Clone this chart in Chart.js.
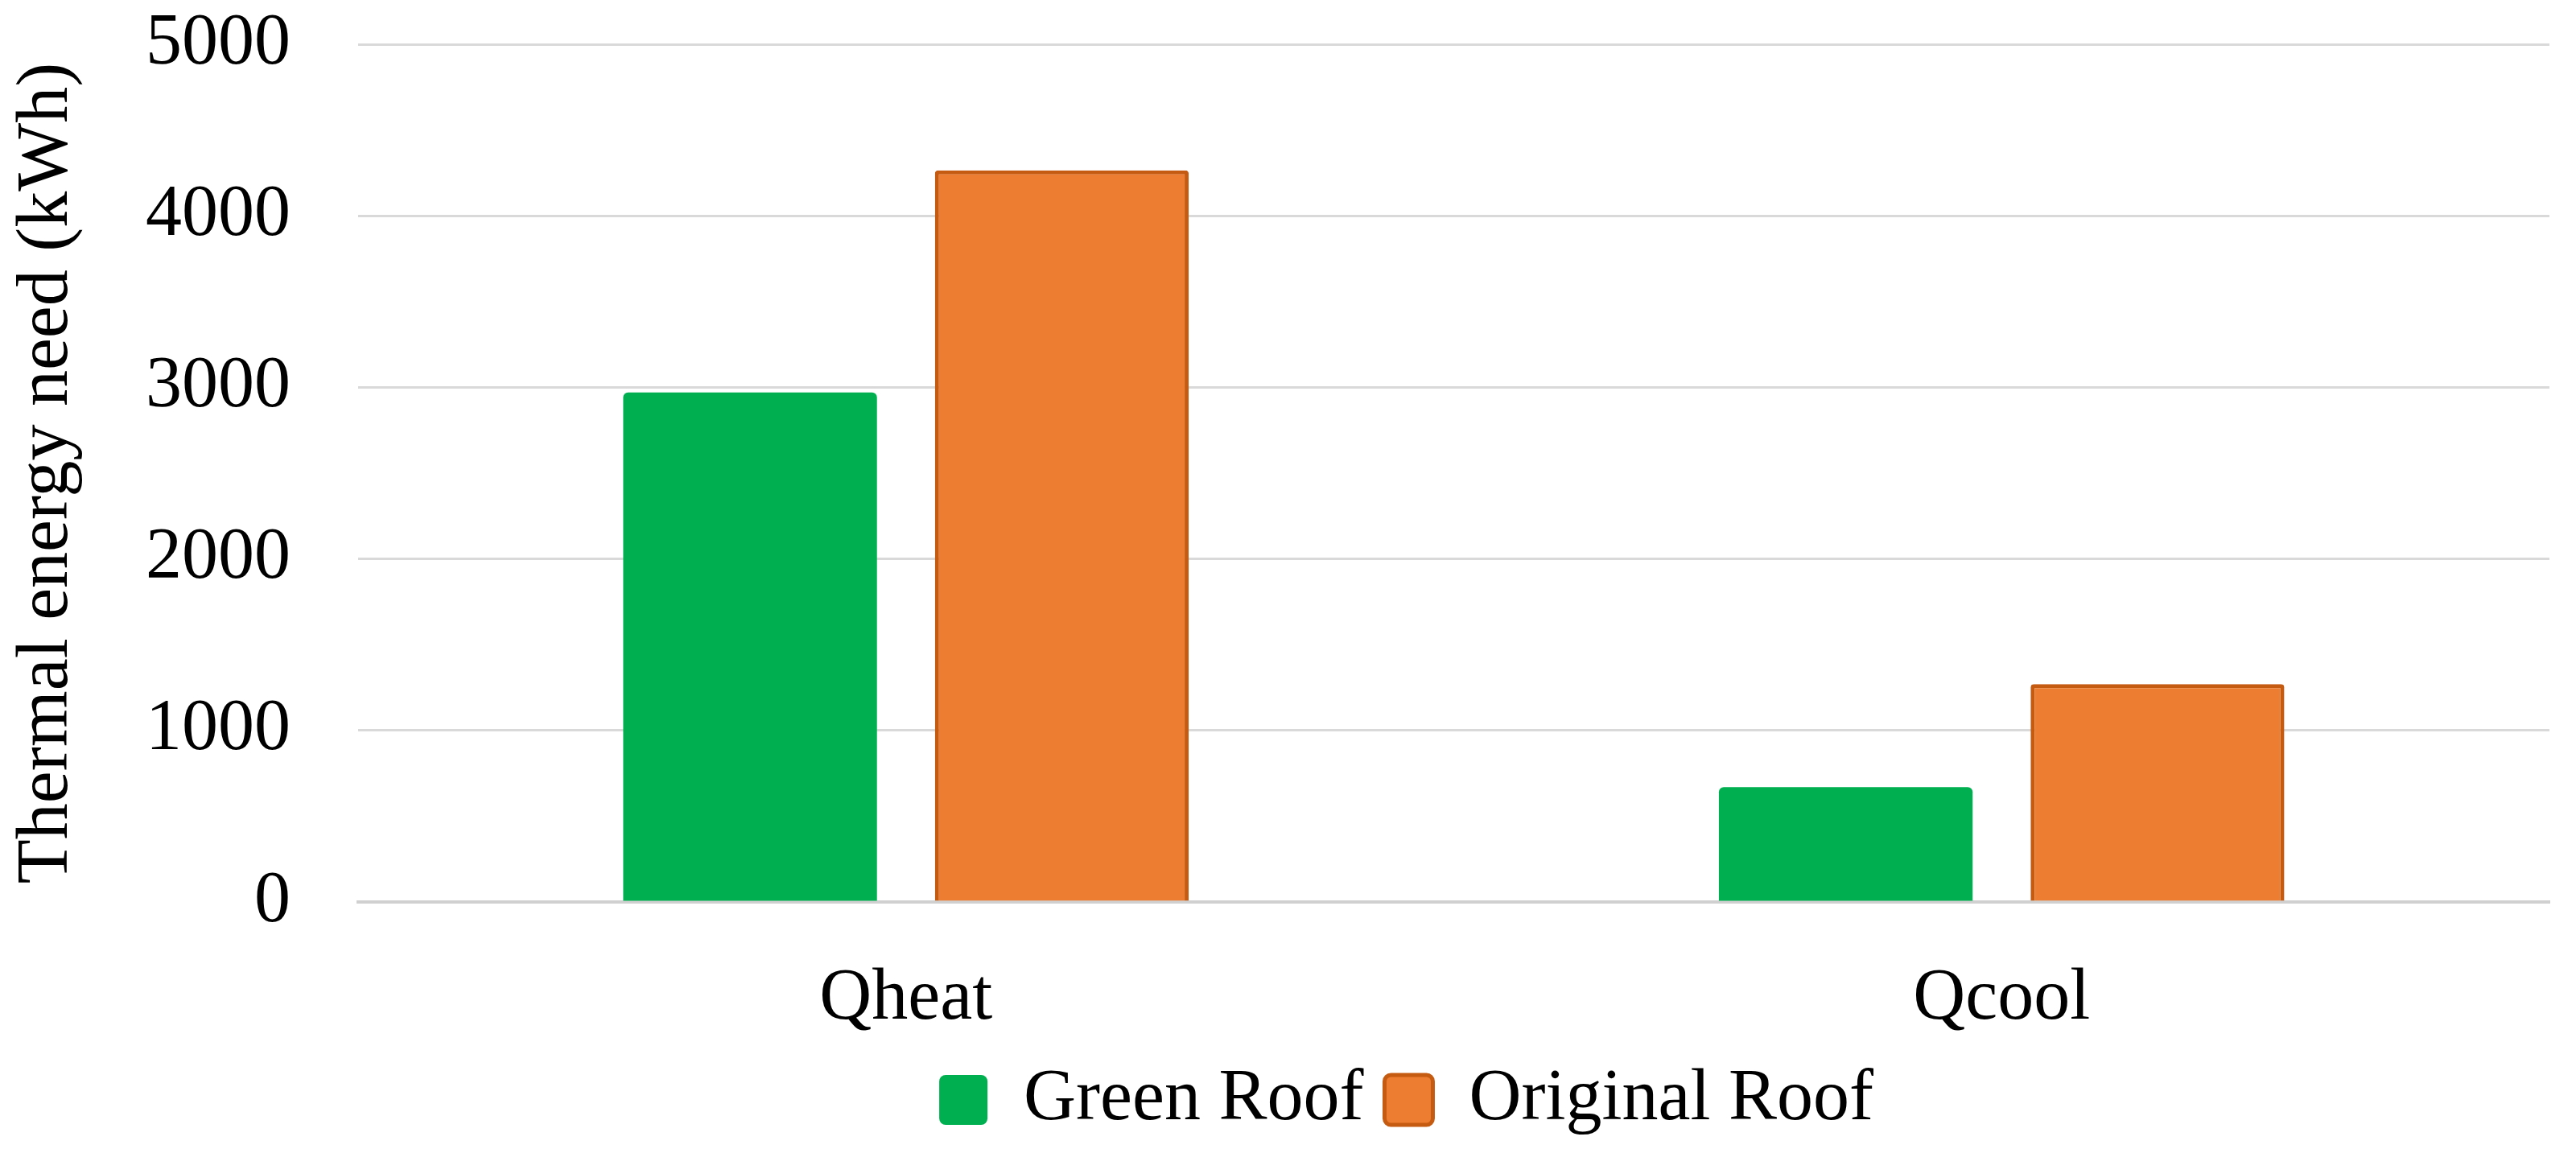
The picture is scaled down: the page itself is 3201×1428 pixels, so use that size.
<!DOCTYPE html>
<html>
<head>
<meta charset="utf-8">
<script src="https://cdn.jsdelivr.net/npm/chart.js@4/dist/chart.umd.min.js"></script>
<style>
  html, body { margin: 0; padding: 0; background: #ffffff; }
  #wrap { width: 3201px; height: 1428px; }
</style>
</head>
<body>
<div id="wrap"><canvas id="c" width="3201" height="1428"></canvas></div>
<script>
// ---- data ----
const categories = ['Qheat', 'Qcool'];
const greenRoof = [2970, 670];
const originalRoof = [4265, 1270];
const seriesNames = ['Green Roof', 'Original Roof'];
const yTicks = [0, 1000, 2000, 3000, 4000, 5000];
const yTitle = 'Thermal energy need (kWh)';

const FONT = "'Liberation Serif', 'Times New Roman', serif";

const legendShift = {
  id: 'legendShift',
  afterLayout(chart) {
    if (chart.legend) {
      chart.legend.left += 161;
      chart.legend.right += 161;
    }
  }
};

new Chart(document.getElementById('c'), {
  type: 'bar',
  data: {
    labels: categories,
    datasets: [
      {
        label: seriesNames[0],
        data: greenRoof,
        backgroundColor: '#00B050',
        borderColor: '#00B050',
        borderWidth: 0,
        borderRadius: 6,
        categoryPercentage: 0.569,
        barPercentage: 0.814
      },
      {
        label: seriesNames[1],
        data: originalRoof,
        backgroundColor: '#ED7D31',
        borderColor: '#C55A11',
        borderWidth: 5,
        borderRadius: 4,
        categoryPercentage: 0.569,
        barPercentage: 0.814
      }
    ]
  },
  options: {
    responsive: false,
    devicePixelRatio: 1,
    animation: false,
    layout: { padding: { left: 5, right: 33, top: 55, bottom: 6 } },
    plugins: {
      tooltip: { enabled: false },
      legend: {
        position: 'bottom',
        labels: {
          font: { family: FONT, size: 90 },
          color: '#000000',
          boxWidth: 60,
          boxHeight: 62,
          padding: 26,
          useBorderRadius: true,
          borderRadius: 8
        }
      }
    },
    scales: {
      x: {
        grid: { display: false, drawTicks: true, tickLength: 67, tickColor: 'rgba(0,0,0,0)' },
        border: { display: true, color: '#D0D0D0', width: 4 },
        ticks: {
          font: { family: FONT, size: 90 },
          color: '#000000',
          padding: 0
        }
      },
      y: {
        min: yTicks[0],
        max: yTicks[yTicks.length - 1],
        afterBuildTicks(axis) { axis.ticks = yTicks.map(v => ({ value: v })); },
        grid: { color: '#D9D9D9', lineWidth: 3, drawTicks: true, tickLength: 84, tickColor: 'rgba(0,0,0,0)' },
        border: { display: false },
        ticks: {
          font: { family: FONT, size: 90 },
          color: '#000000',
          padding: 0,
          callback: (v) => String(v)
        },
        title: {
          display: true,
          text: yTitle,
          font: { family: FONT, size: 90 },
          color: '#000000',
          padding: { top: 0, bottom: 68 }
        }
      }
    }
  },
  plugins: [legendShift]
});
</script>
</body>
</html>
